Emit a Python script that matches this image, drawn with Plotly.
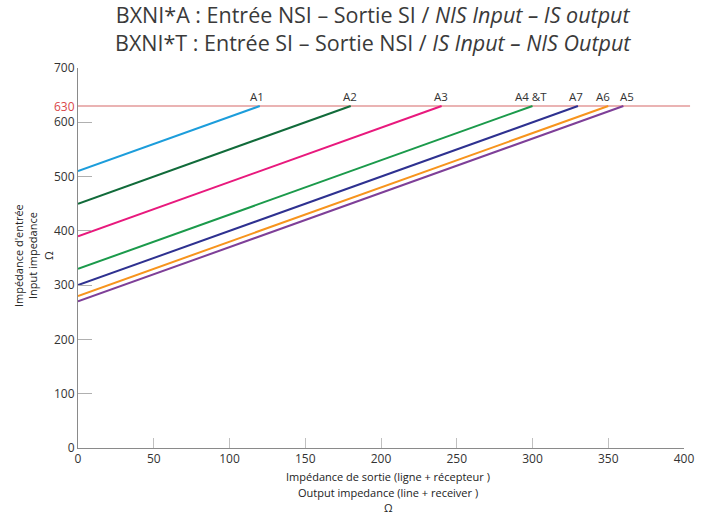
import plotly.graph_objects as go

names = ["A1", "A2", "A3", "A4 &T", "A7", "A6", "A5"]
start_y = [510, 450, 390, 330, 300, 280, 270]
end_x = [120, 180, 240, 300, 330, 350, 360]
limit = 630
colors = ["#1c9ddb", "#116b3a", "#e8197d", "#1b9a4b", "#2e3190", "#f7941d", "#7e3f98"]
label_shift = [-3, -1, -1, -2, -2, -5, 4]
x_ticks = [0, 50, 100, 150, 200, 250, 300, 350, 400]
y_ticks = [0, 100, 200, 300, 400, 500, 600, 700]

FONT = "Open Sans"
fig = go.Figure()
fig.add_shape(type="line", xref="paper", yref="y", x0=0, x1=1.01, y0=limit, y1=limit,
              line=dict(color="#e39a9a", width=1.5), layer="below")
for n, s, e, c, sh in zip(names, start_y, end_x, colors, label_shift):
    fig.add_trace(go.Scatter(x=[0, e], y=[s, limit], mode="lines",
                             line=dict(color=c, width=2), name=n, showlegend=False,
                             hoverinfo="skip"))
    fig.add_annotation(x=e, y=limit, text=n, showarrow=False, yanchor="bottom",
                       yshift=0, xshift=sh, font=dict(size=11.5, color="#333333", family=FONT))

fig.add_annotation(xref="paper", x=0, y=limit, text=str(limit), showarrow=False,
                   xanchor="right", xshift=-1, font=dict(size=12, color="#d9474a", family=FONT))

fig.add_annotation(xref="paper", yref="paper", x=0.487, y=1.0, yshift=40, yanchor="middle",
                   text=("BXNI*A : Entrée NSI – Sortie SI / <i>NIS Input – IS output</i><br>"
                         "BXNI*T : Entrée SI – Sortie NSI / <i>IS Input – NIS Output</i>"),
                   showarrow=False, align="center",
                   font=dict(size=21.5, color="#3a3a3a", family=FONT))

for txt, dx in [("Impédance d'entrée", -60), ("Input impedance", -46), ("Ω", -30)]:
    fig.add_annotation(xref="paper", yref="paper", x=0, xshift=dx, y=0.505, textangle=-90,
                       xanchor="center", yanchor="middle",
                       text=txt, showarrow=False,
                       font=dict(size=11, color="#222222", family=FONT))

for txt, dy in [("Impédance de sortie (ligne + récepteur )", -28),
                ("Output impedance (line + receiver )", -44), ("Ω", -59)]:
    fig.add_annotation(xref="paper", yref="paper", x=0.512, y=0, yshift=dy,
                       yanchor="middle", text=txt, showarrow=False,
                       font=dict(size=11, color="#222222", family=FONT))

fig.update_layout(
    width=705, height=516,
    margin=dict(l=78, r=21, t=68, b=68),
    plot_bgcolor="white", paper_bgcolor="white",
    xaxis=dict(range=[0, 400], tickvals=x_ticks, showgrid=False, zeroline=False,
               showline=True, linecolor="#8a8a8a", linewidth=1,
               ticks="inside", ticklen=10, tickcolor="#c0c0c0",
               tickfont=dict(size=12, color="#333333", family=FONT)),
    yaxis=dict(range=[0, 700], tickvals=y_ticks, showgrid=False, zeroline=False,
               showline=True, linecolor="#8a8a8a", linewidth=1,
               ticks="inside", ticklen=14, tickcolor="#b0b0b0",
               tickfont=dict(size=12, color="#333333", family=FONT)),
)
fig.write_html("out.html", config={"displayModeBar": False},
               post_script="document.body.style.margin='0';")
